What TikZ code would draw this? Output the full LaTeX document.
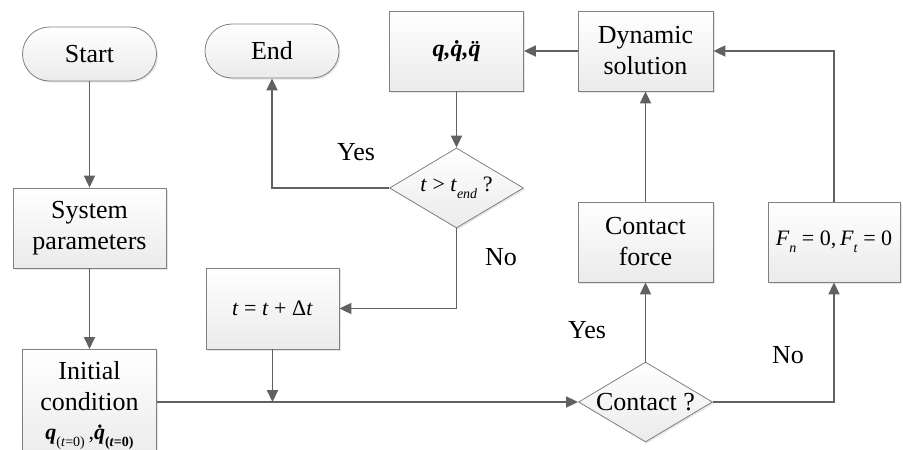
\documentclass[tikz,border=0pt]{standalone}
\usepackage{fontspec}
\setmainfont{Liberation Serif}
\usetikzlibrary{arrows.meta,shapes.geometric,shadows,calc}
% lowered small subscript set in text fonts
\newcommand{\lsub}[1]{\raisebox{-0.3em}{\fontsize{14}{14}\selectfont #1}}

\begin{document}
\begin{tikzpicture}[x=1pt,y=-1pt,
  box/.style={draw=black!50, line width=0.8pt, top color=white, bottom color=black!8,
    drop shadow={shadow xshift=1.5pt, shadow yshift=-1.5pt, opacity=0.25, fill=black!40},
    minimum width=134pt, minimum height=80pt, inner sep=2pt, align=center,
    font=\fontsize{26}{31}\selectfont},
  term/.style={box, rounded corners=27pt, minimum height=54pt},
  decide/.style={box, diamond, minimum width=134pt, minimum height=80pt, inner sep=0pt},
  link/.style={draw=black!62, line width=1.8pt},
  arr/.style={link, -{Triangle[length=12pt,width=11pt]}},
  lab/.style={font=\fontsize{26}{26}\selectfont}
]
\useasboundingbox (0,0) rectangle (903,450);

% terminals
\node[term] (start) at (89.5,54) {Start};
\node[term] (end) at (272,51) {End};

% process boxes
\node[box, minimum width=153pt] (sys) at (89.5,228) {System\\parameters};
\node[box, minimum width=134pt, minimum height=112pt, anchor=north] (init) at (89.5,349)
  {Initial\\condition\\[-2pt]{\fontsize{22}{22}\selectfont{\bfseries\itshape q}\lsub{(\textit{t}=0)}\,,{\bfseries\itshape \.{q}}\lsub{\bfseries(\textit{t}=0)}}};
\node[box, minimum width=133pt, minimum height=81pt] (tstep) at (272.5,308.5)
  {\fontsize{22}{22}\selectfont\textit{t} = \textit{t} + Δ\textit{t}};
\node[box] (qbox) at (456.5,51) {\fontsize{24}{24}\selectfont\bfseries\itshape q,\.{q},\"{q}};
\node[box, minimum width=135pt] (dyn) at (645.5,51) {Dynamic\\solution};
\node[box, minimum width=135pt] (cforce) at (645.5,242) {Contact\\force};
\node[box, minimum width=132pt] (fzero) at (834,242)
  {\fontsize{22}{22}\selectfont\textit{F}\lsub{\textit{n}} = 0,\,\textit{F}\lsub{\textit{t}} = 0};

% decisions
\node[decide] (tend) at (456.5,188)
  {\makebox[0pt]{\fontsize{22}{22}\selectfont\textit{t} > \textit{t}\lsub{\textit{end}} ?}};
\node[decide] (contact) at (645.5,402) {\makebox[0pt]{Contact ?}};

% connectors
\coordinate (meet) at (tstep.south |- contact.west);
\draw[arr] (start) -- (sys);
\draw[arr] (sys) -- (init);
\draw[arr] (init.east |- contact.west) -- (contact.west);
\draw[arr] (tstep) -- (meet);
\draw[arr] (contact) -- (cforce);
\draw[arr] (cforce) -- (dyn);
\draw[arr] (contact.east) -| (fzero.south);
\draw[arr] (fzero.north) |- (dyn.east);
\draw[arr] (dyn) -- (qbox);
\draw[arr] (qbox) -- (tend);
\draw[arr] (tend.west) -| (end.south);
\draw[arr] (tend.south) |- (tstep.east);

% branch labels
\node[lab] (yes1) at (356,152) {Yes};
\node[lab] (no1) at (501,257) {No};
\node[lab] (yes2) at (587,330) {Yes};
\node[lab] (no2) at (788,355) {No};
\end{tikzpicture}
\end{document}
